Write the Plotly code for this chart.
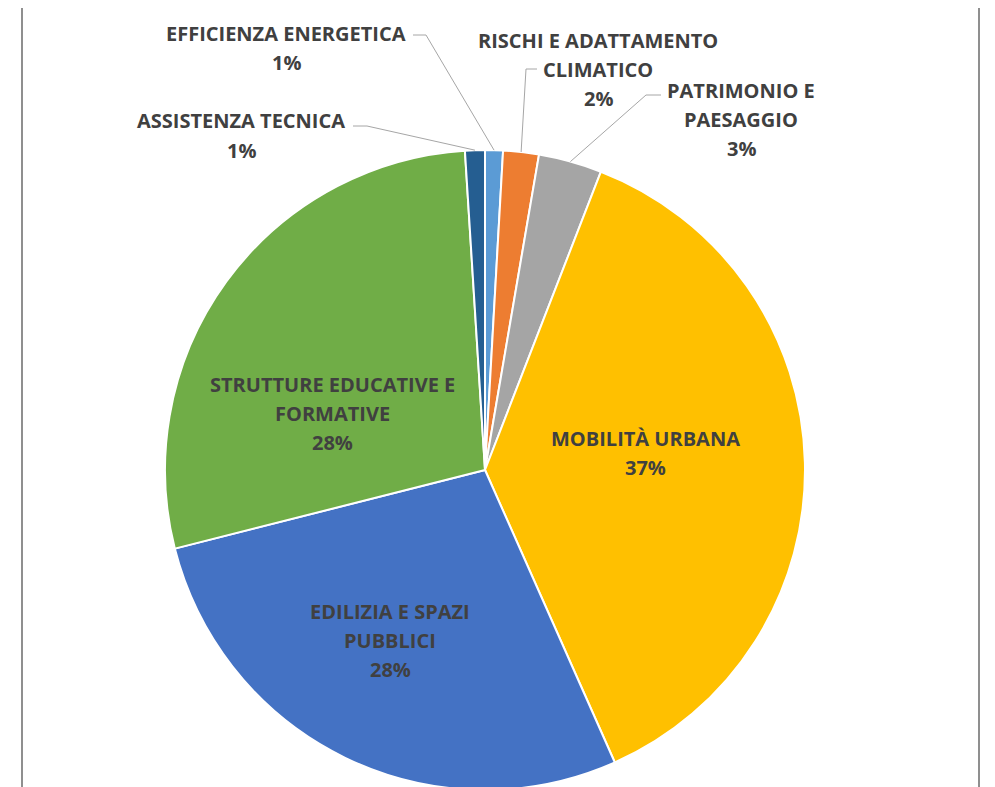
import numpy as np
import plotly.graph_objects as go

# ---- data ----
categories = [
    "EFFICIENZA ENERGETICA",
    "RISCHI E ADATTAMENTO CLIMATICO",
    "PATRIMONIO E PAESAGGIO",
    "MOBILITÀ URBANA",
    "EDILIZIA E SPAZI PUBBLICI",
    "STRUTTURE EDUCATIVE E FORMATIVE",
    "ASSISTENZA TECNICA",
]
label_lines = [
    ["EFFICIENZA ENERGETICA"],
    ["RISCHI E ADATTAMENTO", "CLIMATICO"],
    ["PATRIMONIO E", "PAESAGGIO"],
    ["MOBILITÀ URBANA"],
    ["EDILIZIA E SPAZI", "PUBBLICI"],
    ["STRUTTURE EDUCATIVE E", "FORMATIVE"],
    ["ASSISTENZA TECNICA"],
]
values = [0.9, 1.8, 3.2, 37.45, 27.7, 27.95, 1.0]
colors = ["#5B9BD5", "#ED7D31", "#A5A5A5", "#FFC000", "#4472C4", "#70AD47", "#255E91"]

# ---- layout geometry (page pixels) ----
OFF = 8  # page body margin
W, H = 995, 800
CX, CY, R = 485, 470, 320
LINE_H = 29
FONT = "Open Sans"
FSIZE = 20
TXT = "#404040"

def fx(px):
    return (px - OFF) / W

def fy(py):
    return 1 - (py - OFF) / H

# label anchor: (center x, first line center y)
label_pos = [
    (286, 34),
    (598, 40),
    (741, 90),
    (645, 439),
    (390, 611),
    (332, 385),
    (241, 121),
]
# leader line: label-side start, elbow (pixels); None = inside label
leaders = [
    [(413, 35), (426, 35)],
    [(537, 69), (526, 69)],
    [(661, 95), (646, 95)],
    None,
    None,
    None,
    [(353, 126), (367, 126)],
]

total = sum(values)
pcts = [v / total for v in values]

fig = go.Figure(
    go.Pie(
        labels=categories,
        values=values,
        sort=False,
        direction="clockwise",
        rotation=0,
        marker=dict(colors=colors, line=dict(color="white", width=2)),
        textinfo="none",
        hoverinfo="label+percent",
        showlegend=False,
        domain=dict(x=[fx(CX - R), fx(CX + R)], y=[fy(CY + R), fy(CY - R)]),
    )
)

annotations = []
shapes = []
cum = 0.0
for i, cat in enumerate(categories):
    lines = label_lines[i] + [f"{round(pcts[i] * 100):d}%"]
    x0, y0 = label_pos[i]
    for k, t in enumerate(lines):
        annotations.append(dict(
            x=fx(x0), y=fy(y0 + k * LINE_H), xref="paper", yref="paper",
            text=t, showarrow=False, xanchor="center", yanchor="middle",
            font=dict(family=FONT, size=FSIZE, color=TXT, weight="bold"),
        ))
    mid = cum + pcts[i] / 2
    cum += pcts[i]
    if leaders[i] is not None:
        th = 2 * np.pi * mid
        ex, ey = CX + R * np.sin(th), CY - R * np.cos(th)
        (sx, sy), (bx, by) = leaders[i]
        path = f"M {fx(sx)},{fy(sy)} L {fx(bx)},{fy(by)} L {fx(ex)},{fy(ey)}"
        shapes.append(dict(type="path", path=path, xref="paper", yref="paper",
                           line=dict(color="#A6A6A6", width=1)))

# chart frame
for (xa, ya, xb, yb) in [(22, 3, 979, 3), (22, 3, 22, 820), (979, 3, 979, 820)]:
    shapes.append(dict(type="line", xref="paper", yref="paper",
                       x0=fx(xa), y0=fy(ya), x1=fx(xb), y1=fy(yb),
                       line=dict(color="#8F8F8F", width=2)))

fig.update_layout(
    width=W, height=H,
    margin=dict(l=0, r=0, t=0, b=0),
    paper_bgcolor="white",
    plot_bgcolor="white",
    annotations=annotations,
    shapes=shapes,
)

fig.write_html("out.html")
